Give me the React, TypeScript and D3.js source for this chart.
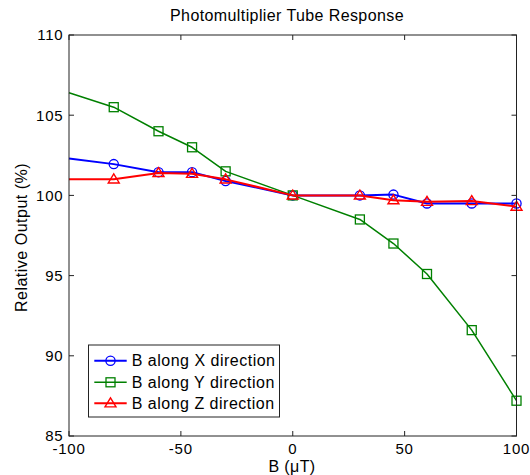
import React from "react";
import * as d3 from "d3";

const xValues = [-100, -80, -60, -45, -30, 0, 30, 45, 60, 80, 100];
const seriesX = [102.3, 101.95, 101.45, 101.45, 100.9, 100.0, 100.0, 100.05, 99.5, 99.5, 99.5];
const seriesY = [106.4, 105.5, 104.0, 103.0, 101.5, 100.0, 98.5, 97.0, 95.1, 91.6, 87.2];
const seriesZ = [101.0, 101.0, 101.4, 101.35, 101.0, 100.0, 100.0, 99.7, 99.6, 99.65, 99.3];
const seriesNames = ["B along X direction", "B along Y direction", "B along Z direction"];
const xTicks = [-100, -50, 0, 50, 100];
const yTicks = [85, 90, 95, 100, 105, 110];

const FONT = "'Liberation Sans', Arial, Helvetica, sans-serif";

type Marker = "circle" | "square" | "triangle";

function MarkerShape({ type, x, y, color }: { type: Marker; x: number; y: number; color: string }) {
  if (type === "circle") {
    return <circle cx={x} cy={y} r={4.6} fill="none" stroke={color} strokeWidth={1.3} />;
  }
  if (type === "square") {
    return <rect x={x - 4.5} y={y - 4.5} width={9} height={9} fill="none" stroke={color} strokeWidth={1.3} />;
  }
  const h = 9;
  const w = 11;
  return (
    <path
      d={`M${x},${y - h * 0.6} L${x + w / 2},${y + h * 0.4} L${x - w / 2},${y + h * 0.4} Z`}
      fill="none"
      stroke={color}
      strokeWidth={1.4}
    />
  );
}

export default function App() {
  const width = 530;
  const height = 475;
  const left = 69;
  const right = 516.5;
  const top = 35;
  const bottom = 436;

  const x = d3.scaleLinear().domain([-100, 100]).range([left, right]);
  const y = d3.scaleLinear().domain([85, 110]).range([bottom, top]);

  const series = [
    { name: seriesNames[0], values: seriesX, color: "#0000ff", marker: "circle" as Marker, lw: 2 },
    { name: seriesNames[1], values: seriesY, color: "#008000", marker: "square" as Marker, lw: 1.5 },
    { name: seriesNames[2], values: seriesZ, color: "#ff0000", marker: "triangle" as Marker, lw: 2 },
  ];

  const line = d3
    .line<number>()
    .x((_, i) => x(xValues[i]))
    .y((d) => y(d));

  const tickLen = 5;
  const legend = { x: 88.5, y: 345, w: 191, h: 72 };
  const rowYs = [360.7, 382.3, 403.3];

  return (
    <svg width={width} height={height} style={{ position: "absolute", left: 0, top: 0, background: "#fff" }}>
      <rect x={0} y={0} width={width} height={height} fill="#fff" />
      <text x={287} y={21} textAnchor="middle" fontFamily={FONT} fontSize={16} letterSpacing={0.4} fill="#000">
        Photomultiplier Tube Response
      </text>

      {/* series */}
      <defs>
        <clipPath id="plotclip">
          <rect x={left - 8} y={top - 8} width={right - left + 16} height={bottom - top + 16} />
        </clipPath>
      </defs>
      <g clipPath="url(#plotclip)">
        {series.map((s) => (
          <g key={s.name}>
            <path d={line(s.values) || ""} fill="none" stroke={s.color} strokeWidth={s.lw} strokeLinejoin="round" />
            {s.values.map((v, i) =>
              i === 0 ? null : <MarkerShape key={i} type={s.marker} x={x(xValues[i])} y={y(v)} color={s.color} />
            )}
          </g>
        ))}
      </g>

      {/* axes box */}
      <rect x={left} y={top} width={right - left} height={bottom - top} fill="none" stroke="#222" strokeWidth={1} />
      {xTicks.map((t) => (
        <g key={"xt" + t}>
          <line x1={x(t)} x2={x(t)} y1={bottom} y2={bottom - tickLen} stroke="#222" />
          <line x1={x(t)} x2={x(t)} y1={top} y2={top + tickLen} stroke="#222" />
          <text x={x(t)} y={454} textAnchor="middle" fontFamily={FONT} fontSize={15} letterSpacing={0.8} fill="#000">
            {t}
          </text>
        </g>
      ))}
      {yTicks.map((t) => (
        <g key={"yt" + t}>
          <line x1={left} x2={left + tickLen} y1={y(t)} y2={y(t)} stroke="#222" />
          <line x1={right} x2={right - tickLen} y1={y(t)} y2={y(t)} stroke="#222" />
          <text x={63.5} y={y(t) + 5.4} textAnchor="end" fontFamily={FONT} fontSize={15} letterSpacing={0.8} fill="#000">
            {t}
          </text>
        </g>
      ))}

      {/* axis labels */}
      <text x={292} y={472} textAnchor="middle" fontFamily={FONT} fontSize={16} letterSpacing={0.4} fill="#000">
        B (μT)
      </text>
      <text
        transform={`translate(27,237.5) rotate(-90)`}
        textAnchor="middle"
        fontFamily={FONT}
        fontSize={16}
        letterSpacing={0.5}
        fill="#000"
      >
        Relative Output (%)
      </text>

      {/* legend */}
      <rect x={legend.x} y={legend.y} width={legend.w} height={legend.h} fill="#fff" stroke="#222" strokeWidth={1} />
      {series.map((s, i) => (
        <g key={"lg" + i}>
          <line x1={94.3} x2={126.7} y1={rowYs[i]} y2={rowYs[i]} stroke={s.color} strokeWidth={s.lw} />
          <MarkerShape type={s.marker} x={110.5} y={rowYs[i]} color={s.color} />
          <text x={131.7} y={rowYs[i] + 5.5} fontFamily={FONT} fontSize={16} letterSpacing={0.5} fill="#000">
            {s.name}
          </text>
        </g>
      ))}
    </svg>
  );
}
